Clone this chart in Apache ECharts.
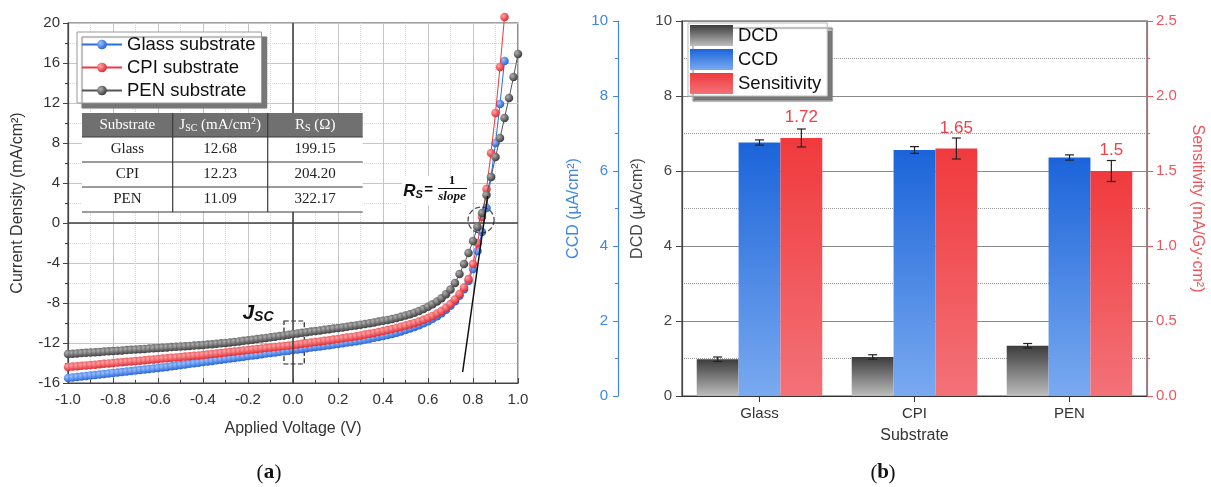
<!DOCTYPE html>
<html>
<head>
<meta charset="utf-8">
<script src="https://cdn.jsdelivr.net/npm/echarts@6/dist/echarts.min.js"></script>
<style>
  html, body { margin: 0; padding: 0; background: #fff; }
  #main { width: 1211px; height: 487px; }
</style>
</head>
<body>
<div id="main"></div>
<script>
// ---- panel (a): J-V curves ----
const voltage = [
  -1.00,-0.98,-0.96,-0.94,-0.92,-0.90,-0.88,-0.86,-0.84,-0.82,
  -0.80,-0.78,-0.76,-0.74,-0.72,-0.70,-0.68,-0.66,-0.64,-0.62,
  -0.60,-0.58,-0.56,-0.54,-0.52,-0.50,-0.48,-0.46,-0.44,-0.42,
  -0.40,-0.38,-0.36,-0.34,-0.32,-0.30,-0.28,-0.26,-0.24,-0.22,
  -0.20,-0.18,-0.16,-0.14,-0.12,-0.10,-0.08,-0.06,-0.04,-0.02,
  0.00,0.02,0.04,0.06,0.08,0.10,0.12,0.14,0.16,0.18,
  0.20,0.22,0.24,0.26,0.28,0.30,0.32,0.34,0.36,0.38,
  0.40,0.42,0.44,0.46,0.48,0.50,0.52,0.54,0.56,0.58,
  0.60,0.62,0.64,0.66,0.68,0.70,0.72,0.74,0.76,0.78,
  0.80,0.82,0.84,0.86,0.88,0.90,0.92,0.94,0.96,0.98,
  1.00
];
const glassJ = [
  -15.50,-15.46,-15.40,-15.36,-15.30,-15.26,-15.20,-15.16,-15.10,-15.05,
  -15.00,-14.95,-14.91,-14.85,-14.80,-14.76,-14.70,-14.66,-14.60,-14.55,
  -14.50,-14.44,-14.39,-14.32,-14.27,-14.20,-14.15,-14.08,-14.02,-13.97,
  -13.90,-13.84,-13.79,-13.72,-13.67,-13.60,-13.54,-13.49,-13.42,-13.37,
  -13.30,-13.24,-13.19,-13.12,-13.06,-13.00,-12.95,-12.88,-12.82,-12.77,
  -12.70,-12.64,-12.59,-12.52,-12.46,-12.40,-12.35,-12.28,-12.22,-12.16,
  -12.10,-12.03,-11.96,-11.89,-11.82,-11.74,-11.66,-11.57,-11.48,-11.39,
  -11.30,-11.20,-11.09,-10.97,-10.84,-10.70,-10.55,-10.39,-10.22,-10.03,
  -9.82,-9.58,-9.32,-9.02,-8.68,-8.28,-7.82,-7.28,-6.62,-5.80,
  -4.60,-2.80,-0.90,1.50,4.60,8.00,11.90,16.20
];
const cpiJ = [
  -14.40,-14.36,-14.33,-14.28,-14.24,-14.20,-14.17,-14.12,-14.08,-14.04,
  -14.00,-13.96,-13.93,-13.88,-13.84,-13.80,-13.77,-13.72,-13.68,-13.64,
  -13.60,-13.56,-13.53,-13.48,-13.44,-13.40,-13.36,-13.32,-13.28,-13.24,
  -13.20,-13.15,-13.10,-13.05,-13.00,-12.95,-12.90,-12.85,-12.80,-12.75,
  -12.70,-12.65,-12.60,-12.55,-12.50,-12.45,-12.40,-12.35,-12.30,-12.25,
  -12.20,-12.14,-12.08,-12.02,-11.96,-11.90,-11.84,-11.78,-11.72,-11.66,
  -11.60,-11.53,-11.46,-11.39,-11.32,-11.24,-11.16,-11.08,-10.99,-10.90,
  -10.80,-10.70,-10.60,-10.49,-10.38,-10.26,-10.13,-9.99,-9.84,-9.68,
  -9.50,-9.30,-9.06,-8.80,-8.48,-8.10,-7.64,-7.10,-6.45,-5.60,
  -4.10,-2.00,0.60,3.40,7.00,11.00,15.60,20.60
];
const penJ = [
  -13.10,-13.07,-13.04,-13.01,-12.98,-12.95,-12.92,-12.89,-12.86,-12.83,
  -12.80,-12.77,-12.74,-12.71,-12.68,-12.65,-12.62,-12.59,-12.56,-12.53,
  -12.50,-12.47,-12.44,-12.41,-12.38,-12.35,-12.32,-12.29,-12.26,-12.23,
  -12.20,-12.16,-12.12,-12.07,-12.03,-11.99,-11.94,-11.89,-11.84,-11.78,
  -11.72,-11.67,-11.61,-11.55,-11.49,-11.43,-11.37,-11.31,-11.24,-11.17,
  -11.10,-11.04,-10.98,-10.92,-10.86,-10.80,-10.74,-10.68,-10.62,-10.56,
  -10.50,-10.44,-10.38,-10.31,-10.24,-10.17,-10.10,-10.02,-9.94,-9.86,
  -9.78,-9.70,-9.60,-9.50,-9.38,-9.26,-9.12,-8.97,-8.80,-8.60,
  -8.38,-8.12,-7.84,-7.52,-7.12,-6.64,-6.00,-5.10,-4.10,-3.00,
  -1.80,-0.40,1.00,2.80,4.60,6.60,8.50,10.50,12.50,14.60,
  16.90
];
const slopeLine = [[0.754, -14.9], [0.865, 2.7]];
const jscBox = [[-0.04, -9.8], [0.05, -14.1]];
const rsCircle = [[0.836, 0.3]];

const tableSubstrates = ['Glass', 'CPI', 'PEN'];
const tableJsc = ['12.68', '12.23', '11.09'];
const tableRs = ['199.15', '204.20', '322.17'];

// ---- panel (b): bars ----
const categories = ['Glass', 'CPI', 'PEN'];
const dcd = [0.98, 1.04, 1.34];
const dcdErr = [0.06, 0.06, 0.06];
const ccd = [6.76, 6.56, 6.36];
const ccdErr = [0.07, 0.09, 0.07];
const sensitivity = [1.72, 1.65, 1.5];
const sensErr = [0.06, 0.07, 0.07];

const SANS = '"Liberation Sans", Arial, sans-serif';
const SERIF = '"Liberation Serif", "Times New Roman", serif';
const BLUE_AX = '#3d86e6';
const RED_AX = '#f0555b';
const CAT_GAP = 0.19;
const HEAD_TXT = '#ffffff';

function sphere(hi, base) {
  return { type: 'radial', x: 0.35, y: 0.35, r: 0.7,
    colorStops: [{ offset: 0, color: hi }, { offset: 1, color: base }] };
}
function vgrad(top, bottom) {
  return { type: 'linear', x: 0, y: 0, x2: 0, y2: 1,
    colorStops: [{ offset: 0, color: top }, { offset: 1, color: bottom }] };
}
function pairs(ys) {
  return ys.map((y, i) => [voltage[i], y]);
}

function errorBars(slot) {
  return function (params, api) {
    const cat = api.value(0), v = api.value(1), e = api.value(2);
    const band = api.size([1, 0])[0];
    const bw = band * (1 - CAT_GAP) / 3;
    const top = api.coord([cat, v + e]);
    const bot = api.coord([cat, v - e]);
    const x = top[0] + (slot - 1) * bw;
    const hw = 4.5;
    const style = { stroke: '#222', lineWidth: 1.2 };
    return { type: 'group', children: [
      { type: 'line', shape: { x1: x, y1: top[1], x2: x, y2: bot[1] }, style },
      { type: 'line', shape: { x1: x - hw, y1: top[1], x2: x + hw, y2: top[1] }, style },
      { type: 'line', shape: { x1: x - hw, y1: bot[1], x2: x + hw, y2: bot[1] }, style }
    ]};
  };
}

// text made of pieces with sub/superscripts, laid out left to right
const measureCtx = document.createElement('canvas').getContext('2d');
function pieces(cx, cy, parts, family, color, weight, italic) {
  const font = p => (italic ? 'italic ' : '') + (weight || 'normal') + ' ' + p.size + 'px ' + family;
  let total = 0;
  parts.forEach(p => { measureCtx.font = font(p); p.w = measureCtx.measureText(p.t).width + (p.gap || 0); total += p.w; });
  let x = cx - total / 2;
  return parts.map(p => {
    const el = { type: 'text', x: x, y: cy + (p.dy || 0), z: 120, style: {
      text: p.t, fill: color, fontFamily: family, fontSize: p.size,
      fontWeight: weight || 'normal', fontStyle: italic ? 'italic' : 'normal',
      align: 'left', verticalAlign: 'middle' } };
    x += p.w;
    return el;
  });
}

// inset table of panel (a)
function buildTable() {
  const cols = [82, 172.7, 267.7, 362.7];
  const top = 113, headH = 24, rowH = 25;
  const bottom = top + headH + rowH * 3;
  const kids = [];
  kids.push({ type: 'rect', z: 100, shape: { x: cols[0], y: top + headH, width: cols[3] - cols[0], height: rowH * 3 }, style: { fill: '#fff' } });
  kids.push({ type: 'rect', z: 100, shape: { x: cols[0], y: top, width: cols[3] - cols[0], height: headH }, style: { fill: '#707070' } });
  const line = { stroke: '#3a3a3a', lineWidth: 1.2 };
  for (let r = 0; r <= 3; r++) {
    const y = top + headH + r * rowH;
    kids.push({ type: 'line', z: 101, shape: { x1: cols[0], y1: y, x2: cols[3], y2: y }, style: line });
  }
  [cols[1], cols[2]].forEach(x => {
    kids.push({ type: 'line', z: 101, shape: { x1: x, y1: top, x2: x, y2: bottom }, style: line });
  });
  const mid = i => (cols[i] + cols[i + 1]) / 2;
  const hy = top + headH / 2;
  kids.push(...pieces(mid(0), hy, [{ t: 'Substrate', size: 15 }], SERIF, HEAD_TXT));
  kids.push(...pieces(mid(1), hy, [
    { t: 'J', size: 15 }, { t: 'SC', size: 10, dy: 3 }, { t: ' (mA/cm', size: 15 },
    { t: '2', size: 10, dy: -4 }, { t: ')', size: 15 }], SERIF, HEAD_TXT));
  kids.push(...pieces(mid(2), hy, [
    { t: 'R', size: 15 }, { t: 'S', size: 10, dy: 3 }, { t: ' (Ω)', size: 15 }], SERIF, HEAD_TXT));
  for (let r = 0; r < 3; r++) {
    const y = top + headH + r * rowH + rowH / 2;
    kids.push(...pieces(mid(0), y, [{ t: tableSubstrates[r], size: 15 }], SERIF, '#222'));
    kids.push(...pieces(mid(1), y, [{ t: tableJsc[r], size: 15 }], SERIF, '#222'));
    kids.push(...pieces(mid(2), y, [{ t: tableRs[r], size: 15 }], SERIF, '#222'));
  }
  return kids;
}

function rsNote() {
  const kids = [
    { type: 'rect', z: 90, shape: { x: 402, y: 176, width: 70, height: 29 }, style: { fill: '#fff' } },
    { type: 'line', z: 120, shape: { x1: 438, y1: 188.5, x2: 467, y2: 188.5 }, style: { stroke: '#111', lineWidth: 1 } }
  ];
  kids.push(...pieces(418, 191, [
    { t: 'R', size: 17 }, { t: 'S', size: 11, dy: 4, gap: 1 }, { t: '=', size: 15, dy: -1 }], SANS, '#111', 'bold', true));
  kids.push(...pieces(452, 181, [{ t: '1', size: 13 }], SERIF, '#111', 'bold'));
  kids.push(...pieces(452, 197, [{ t: 'slope', size: 13 }], SERIF, '#111', 'bold', true));
  return kids;
}

function panelTag(cx, letter) {
  return [
    ...pieces(cx - 9, 473, [{ t: '(', size: 21 }], SERIF, '#111'),
    ...pieces(cx, 473, [{ t: letter, size: 21 }], SERIF, '#111', 'bold'),
    ...pieces(cx + 9, 473, [{ t: ')', size: 21 }], SERIF, '#111')
  ];
}

const chart = echarts.init(document.getElementById('main'));
const option = {
  animation: false,
  backgroundColor: '#fff',
  textStyle: { fontFamily: SANS },
  grid: [
    { left: 68, top: 23, width: 450, height: 360, show: true, borderColor: '#444', borderWidth: 1.2, outerBoundsMode: 'none' },
    { left: 682, top: 21, width: 465, height: 375, show: true, borderColor: '#444', borderWidth: 1.2, outerBoundsMode: 'none' }
  ],
  legend: [
    {
      data: ['Glass substrate', 'CPI substrate', 'PEN substrate'],
      orient: 'vertical', left: 77, top: 32, itemWidth: 40, itemHeight: 12, itemGap: 4,
      padding: [3, 6, 3, 4],
      backgroundColor: '#fff', borderColor: '#999', borderWidth: 1,
      shadowColor: '#777', shadowBlur: 1, shadowOffsetX: 5, shadowOffsetY: 5,
      textStyle: { fontFamily: SANS, fontSize: 18.5, color: '#111' }
    },
    {
      data: ['DCD', 'CCD', 'Sensitivity'],
      orient: 'vertical', left: 688, top: 23, itemWidth: 43, itemHeight: 21, itemGap: 3,
      padding: [2, 6, 2, 2], icon: 'rect',
      backgroundColor: '#fff', borderColor: '#bbb', borderWidth: 1,
      shadowColor: '#777', shadowBlur: 1, shadowOffsetX: 5, shadowOffsetY: 5,
      textStyle: { fontFamily: SANS, fontSize: 18.5, color: '#111' }
    }
  ],
  xAxis: [
    {
      type: 'value', gridIndex: 0, min: -1, max: 1, interval: 0.2,
      name: 'Applied Voltage (V)', nameLocation: 'middle', nameGap: 38,
      nameTextStyle: { fontFamily: SANS, fontSize: 16, color: '#333' },
      axisLine: { show: true, onZero: false, lineStyle: { color: '#444', width: 1.2 } },
      axisTick: { show: true, inside: true, length: 5, lineStyle: { color: '#444' } },
      minorTick: { show: true, splitNumber: 2, length: 3, lineStyle: { color: '#444' } },
      axisLabel: { formatter: v => v.toFixed(1), color: '#333', fontSize: 15, margin: 9 },
      splitLine: { show: true, lineStyle: { color: '#c6c6c6', width: 1 } },
      minorSplitLine: { show: true, lineStyle: { color: '#d6d6d6', type: 'dotted' } }
    },
    {
      type: 'category', gridIndex: 1, data: categories,
      name: 'Substrate', nameLocation: 'middle', nameGap: 32,
      nameTextStyle: { fontFamily: SANS, fontSize: 16, color: '#333' },
      axisLine: { show: true, lineStyle: { color: '#333', width: 1.2 } },
      axisTick: { show: true, alignWithLabel: true, length: 6, lineStyle: { color: '#333' } },
      axisLabel: { color: '#333', fontSize: 15, margin: 10 },
      splitLine: { show: false }
    }
  ],
  yAxis: [
    {
      type: 'value', gridIndex: 0, min: -16, max: 20, interval: 4,
      name: 'Current Density (mA/cm²)', nameLocation: 'middle', nameGap: 42, nameRotate: 90,
      nameTextStyle: { fontFamily: SANS, fontSize: 16, color: '#333' },
      axisLine: { show: true, onZero: false, lineStyle: { color: '#444', width: 1.2 } },
      axisTick: { show: true, length: 5, lineStyle: { color: '#444' } },
      minorTick: { show: true, splitNumber: 2, length: 3, lineStyle: { color: '#444' } },
      axisLabel: { color: '#333', fontSize: 15, margin: 8 },
      splitLine: { show: true, lineStyle: { color: '#c6c6c6', width: 1 } },
      minorSplitLine: { show: true, lineStyle: { color: '#d6d6d6', type: 'dotted' } }
    },
    {
      type: 'value', gridIndex: 1, position: 'left', min: 0, max: 10, interval: 2,
      name: 'DCD (µA/cm²)', nameLocation: 'middle', nameGap: 36, nameRotate: 90,
      nameTextStyle: { fontFamily: SANS, fontSize: 16, color: '#444' },
      axisLine: { show: true, lineStyle: { color: '#444', width: 1.2 } },
      axisTick: { show: true, length: 6, lineStyle: { color: '#444' } },
      minorTick: { show: false, splitNumber: 2 },
      axisLabel: { color: '#444', fontSize: 15, margin: 10 },
      splitLine: { show: true, lineStyle: { color: '#8a8a8a', width: 1 } },
      minorSplitLine: { show: true, lineStyle: { color: '#999', type: 'dotted' } }
    },
    {
      type: 'value', gridIndex: 1, position: 'left', offset: 64, min: 0, max: 10, interval: 2,
      name: 'CCD (µA/cm²)', nameLocation: 'middle', nameGap: 36, nameRotate: 90,
      nameTextStyle: { fontFamily: SANS, fontSize: 16, color: BLUE_AX },
      axisLine: { show: true, lineStyle: { color: BLUE_AX, width: 1.2 } },
      axisTick: { show: true, length: 5, lineStyle: { color: BLUE_AX } },
      minorTick: { show: true, splitNumber: 2, length: 3, lineStyle: { color: BLUE_AX } },
      axisLabel: { color: BLUE_AX, fontSize: 15, margin: 10 },
      splitLine: { show: false }
    },
    {
      type: 'value', gridIndex: 1, position: 'right', min: 0, max: 2.5, interval: 0.5,
      name: 'Sensitivity (mA/Gy·cm²)', nameLocation: 'middle', nameGap: 42, nameRotate: -90,
      nameTextStyle: { fontFamily: SANS, fontSize: 16, color: RED_AX },
      axisLine: { show: true, lineStyle: { color: RED_AX, width: 1.2 } },
      axisTick: { show: true, length: 6, lineStyle: { color: RED_AX } },
      minorTick: { show: true, splitNumber: 2, length: 3, lineStyle: { color: RED_AX } },
      axisLabel: { color: RED_AX, fontSize: 15, margin: 9, formatter: v => v.toFixed(1) },
      splitLine: { show: false }
    }
  ],
  series: [
    {
      name: 'Glass substrate', type: 'line', xAxisIndex: 0, yAxisIndex: 0, data: pairs(glassJ),
      symbol: 'circle', symbolSize: 8.5, z: 3,
      itemStyle: { color: sphere('#9cc2ff', '#1f5fd6') },
      lineStyle: { color: '#2a6fe0', width: 1 }
    },
    {
      name: 'CPI substrate', type: 'line', xAxisIndex: 0, yAxisIndex: 0, data: pairs(cpiJ),
      symbol: 'circle', symbolSize: 8.5, z: 4, clip: false,
      itemStyle: { color: sphere('#ffa6a6', '#e0232c') },
      lineStyle: { color: '#ea3a40', width: 1 }
    },
    {
      name: 'PEN substrate', type: 'line', xAxisIndex: 0, yAxisIndex: 0, data: pairs(penJ),
      symbol: 'circle', symbolSize: 8.5, z: 5,
      itemStyle: { color: sphere('#b0b0b0', '#383838') },
      lineStyle: { color: '#555', width: 1 }
    },
    {
      name: 'slope', type: 'line', xAxisIndex: 0, yAxisIndex: 0, data: slopeLine,
      symbol: 'none', z: 6, silent: true,
      lineStyle: { color: '#111', width: 1.5 },
      markLine: {
        silent: true, symbol: 'none', label: { show: false },
        lineStyle: { color: '#444', width: 1.6, type: 'solid' },
        data: [{ xAxis: 0 }, { yAxis: 0 }]
      },
      markArea: {
        silent: true, label: { show: false },
        itemStyle: { color: 'rgba(0,0,0,0)', borderColor: '#222', borderWidth: 1.2, borderType: 'dashed' },
        data: [[{ coord: jscBox[0] }, { coord: jscBox[1] }]]
      }
    },
    {
      name: 'rs', type: 'scatter', xAxisIndex: 0, yAxisIndex: 0, data: rsCircle,
      symbol: 'circle', symbolSize: 26, z: 7, silent: true,
      itemStyle: { color: 'rgba(0,0,0,0)', borderColor: '#222', borderWidth: 1.3, borderType: 'dashed' }
    },
    {
      name: 'DCD', type: 'bar', xAxisIndex: 1, yAxisIndex: 1, data: dcd,
      barGap: '0%', barCategoryGap: (CAT_GAP * 100) + '%',
      itemStyle: { color: vgrad('#3c3c3c', '#bdbdbd') }
    },
    {
      name: 'CCD', type: 'bar', xAxisIndex: 1, yAxisIndex: 2, data: ccd,
      barGap: '0%', barCategoryGap: (CAT_GAP * 100) + '%',
      itemStyle: { color: vgrad('#1b64d9', '#7aaaf0') }
    },
    {
      name: 'Sensitivity', type: 'bar', xAxisIndex: 1, yAxisIndex: 3, data: sensitivity,
      barGap: '0%', barCategoryGap: (CAT_GAP * 100) + '%',
      itemStyle: { color: vgrad('#f03a3d', '#f27278') },
      label: { show: true, position: 'top', distance: 12, color: '#ee4046', fontSize: 17, fontFamily: SANS }
    },
    {
      type: 'custom', xAxisIndex: 1, yAxisIndex: 1, z: 10, silent: true,
      renderItem: errorBars(0), encode: { x: 0, y: 1 },
      data: categories.map((c, i) => [i, dcd[i], dcdErr[i]])
    },
    {
      type: 'custom', xAxisIndex: 1, yAxisIndex: 2, z: 10, silent: true,
      renderItem: errorBars(1), encode: { x: 0, y: 1 },
      data: categories.map((c, i) => [i, ccd[i], ccdErr[i]])
    },
    {
      type: 'custom', xAxisIndex: 1, yAxisIndex: 3, z: 10, silent: true,
      renderItem: errorBars(2), encode: { x: 0, y: 1 },
      data: categories.map((c, i) => [i, sensitivity[i], sensErr[i]])
    }
  ],
  graphic: [
    ...buildTable(),
    ...rsNote(),
    ...pieces(258, 313, [{ t: 'J', size: 21 }, { t: 'SC', size: 14, dy: 4 }], SANS, '#111', 'bold', true),
    ...panelTag(269, 'a'),
    ...panelTag(883, 'b')
  ]
};
chart.setOption(option);
</script>
</body>
</html>
